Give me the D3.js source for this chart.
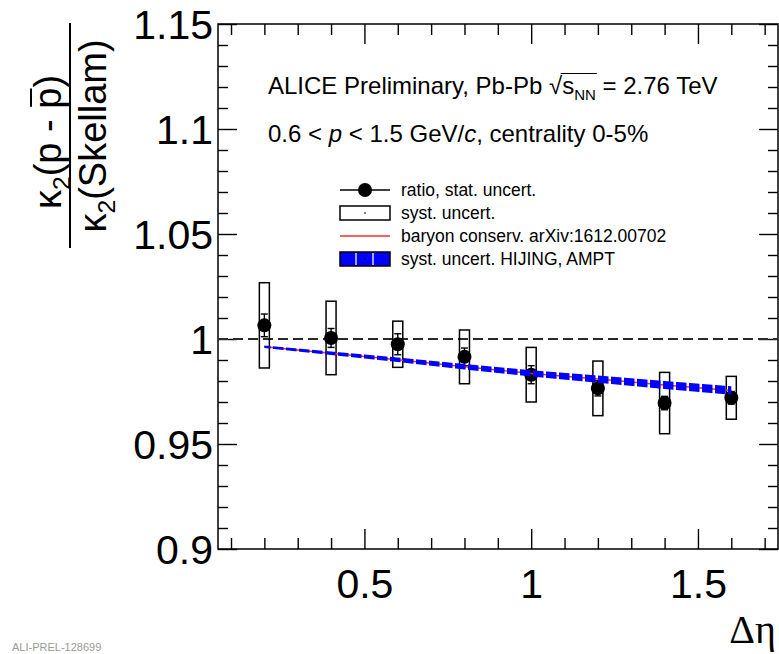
<!DOCTYPE html>
<html>
<head>
<meta charset="utf-8">
<script src="https://cdn.jsdelivr.net/npm/d3@7"></script>
<style>
  html, body { margin: 0; padding: 0; background: #fff; }
  svg { display: block; font-family: "Liberation Sans", Arial, Helvetica, sans-serif; }
</style>
</head>
<body>
<svg id="chart" width="779" height="654"></svg>
<script>
// ---------------- data ----------------
const deltaEta   = [0.2, 0.4, 0.6, 0.8, 1.0, 1.2, 1.4, 1.6];
const ratioVals  = [1.0065, 1.0005, 0.9975, 0.9915, 0.983, 0.9765, 0.9695, 0.972];
const statErr    = [0.0054, 0.0045, 0.005, 0.0042, 0.0043, 0.0036, 0.0032, 0.003];
const systErr    = [0.0203, 0.0175, 0.011, 0.0128, 0.013, 0.013, 0.0146, 0.0102];
const modelVals  = [0.9963, 0.9932, 0.9901, 0.9868, 0.9836, 0.9809, 0.9781, 0.9755];
const modelUnc   = [0.0006, 0.0008, 0.0011, 0.0013, 0.0015, 0.0017, 0.0019, 0.002];
const xMajorTicks = [0.5, 1, 1.5];
const xTickLabels = ["0.5", "1", "1.5"];
const yMajorTicks = [0.9, 0.95, 1, 1.05, 1.1, 1.15];
const yTickLabels = ["0.9", "0.95", "1", "1.05", "1.1", "1.15"];
const legendLabels = ["ratio, stat. uncert.", "syst. uncert.", "baryon conserv. arXiv:1612.00702", "syst. uncert. HIJING, AMPT"];

// ---------------- layout ----------------
const L = 218, R = 778, T = 24, B = 549;
const svg = d3.select("#chart");
const x = d3.scaleLinear().domain([0.061, 1.74]).range([L, R]);
const y = d3.scaleLinear().domain([0.9, 1.15]).range([B, T]);
const boxHalf = 0.015;

// pattern for model band
const defs = svg.append("defs");
const pat = defs.append("pattern").attr("id", "bandPat")
  .attr("patternUnits", "userSpaceOnUse").attr("width", 13).attr("height", 40);
pat.append("rect").attr("x", 0).attr("y", 0).attr("width", 10.5).attr("height", 40).attr("fill", "#0000ff");

// ---------------- axes (ticks inside) ----------------
const minorX = d3.range(1, 18).map(d => d / 10).filter(v => !xMajorTicks.some(m => Math.abs(m - v) < 1e-6));
const minorY = d3.range(90, 116).map(d => d / 100).filter(v => !yMajorTicks.some(m => Math.abs(m - v) < 1e-6));

function styleAxis(g) {
  g.select(".domain").remove();
  g.selectAll(".tick line").attr("stroke", "#000").attr("stroke-width", 1.4);
}
// bottom
svg.append("g").attr("transform", `translate(0,${B})`)
  .call(d3.axisBottom(x).tickValues(xMajorTicks).tickSize(-20).tickSizeOuter(0).tickPadding(20)
    .tickFormat((d, i) => xTickLabels[i]))
  .call(styleAxis)
  .call(g => g.selectAll("text").attr("font-size", 41).attr("fill", "#000"));
svg.append("g").attr("transform", `translate(0,${B})`)
  .call(d3.axisBottom(x).tickValues(minorX).tickSize(-11).tickSizeOuter(0).tickFormat(""))
  .call(styleAxis);
// top
svg.append("g").attr("transform", `translate(0,${T})`)
  .call(d3.axisTop(x).tickValues(xMajorTicks).tickSize(-20).tickSizeOuter(0).tickFormat(""))
  .call(styleAxis);
svg.append("g").attr("transform", `translate(0,${T})`)
  .call(d3.axisTop(x).tickValues(minorX).tickSize(-11).tickSizeOuter(0).tickFormat(""))
  .call(styleAxis);
// left
svg.append("g").attr("transform", `translate(${L},0)`)
  .call(d3.axisLeft(y).tickValues(yMajorTicks).tickSize(-19).tickSizeOuter(0).tickPadding(5)
    .tickFormat((d, i) => yTickLabels[i]))
  .call(styleAxis)
  .call(g => g.selectAll("text").attr("font-size", 41).attr("fill", "#000").attr("dy", "0.36em"));
svg.append("g").attr("transform", `translate(${L},0)`)
  .call(d3.axisLeft(y).tickValues(minorY).tickSize(-10).tickSizeOuter(0).tickFormat(""))
  .call(styleAxis);
// right
svg.append("g").attr("transform", `translate(${R},0)`)
  .call(d3.axisRight(y).tickValues(yMajorTicks).tickSize(-19).tickSizeOuter(0).tickFormat(""))
  .call(styleAxis);
svg.append("g").attr("transform", `translate(${R},0)`)
  .call(d3.axisRight(y).tickValues(minorY).tickSize(-10).tickSizeOuter(0).tickFormat(""))
  .call(styleAxis);

// frame
svg.append("rect").attr("x", L).attr("y", T).attr("width", R - L).attr("height", B - T)
  .attr("fill", "none").attr("stroke", "#000").attr("stroke-width", 1.5);

// ---------------- reference line at 1 ----------------
svg.append("line").attr("x1", L).attr("x2", R).attr("y1", y(1)).attr("y2", y(1))
  .attr("stroke", "#2a2a2a").attr("stroke-width", 2).attr("stroke-dasharray", "10,5");

// ---------------- data marks ----------------
const pts = deltaEta.map((d, i) => ({ x: d, v: ratioVals[i], s: statErr[i], sy: systErr[i], m: modelVals[i], mu: modelUnc[i] }));

// syst boxes
svg.append("g").selectAll("rect").data(pts).join("rect")
  .attr("x", d => x(d.x - boxHalf)).attr("width", d => x(d.x + boxHalf) - x(d.x - boxHalf))
  .attr("y", d => y(d.v + d.sy)).attr("height", d => y(d.v - d.sy) - y(d.v + d.sy))
  .attr("fill", "none").attr("stroke", "#000").attr("stroke-width", 1.5);

// stat error bars
const eb = svg.append("g").attr("stroke", "#000").attr("stroke-width", 1.4);
eb.selectAll("line.v").data(pts).join("line").attr("class", "v")
  .attr("x1", d => x(d.x)).attr("x2", d => x(d.x)).attr("y1", d => y(d.v + d.s)).attr("y2", d => y(d.v - d.s));
eb.selectAll("line.t").data(pts).join("line").attr("class", "t")
  .attr("x1", d => x(d.x) - 3.5).attr("x2", d => x(d.x) + 3.5).attr("y1", d => y(d.v + d.s)).attr("y2", d => y(d.v + d.s));
eb.selectAll("line.b").data(pts).join("line").attr("class", "b")
  .attr("x1", d => x(d.x) - 3.5).attr("x2", d => x(d.x) + 3.5).attr("y1", d => y(d.v - d.s)).attr("y2", d => y(d.v - d.s));

// markers
svg.append("g").selectAll("circle").data(pts).join("circle")
  .attr("cx", d => x(d.x)).attr("cy", d => y(d.v)).attr("r", 7).attr("fill", "#000");

// model red line
svg.append("path").datum(pts)
  .attr("d", d3.line().x(d => x(d.x)).y(d => y(d.m)))
  .attr("fill", "none").attr("stroke", "#ff2a2a").attr("stroke-width", 1.5);
// model band
svg.append("path").datum(pts)
  .attr("d", d3.area().x(d => x(d.x)).y0(d => y(d.m - d.mu)).y1(d => y(d.m + d.mu)))
  .attr("fill", "url(#bandPat)");

// ---------------- texts ----------------
const FS = 24;
const t1 = svg.append("text").attr("x", 268).attr("y", 94).attr("font-size", FS).attr("fill", "#000");
t1.append("tspan").text("ALICE Preliminary, Pb-Pb ");
t1.append("tspan").attr("class", "rad").text("\u221A");
t1.append("tspan").attr("class", "s").text("s");
t1.append("tspan").attr("font-size", 15).attr("dy", 6).text("NN");
t1.append("tspan").attr("dy", -6).text(" = 2.76 TeV");
// radical overline
{
  const node = t1.node();
  const full = node.textContent;
  const iR = full.indexOf("\u221A");
  const eR = node.getExtentOfChar(iR);
  const iN = full.indexOf("NN") + 1;
  const eN = node.getExtentOfChar(iN);
  svg.append("line").attr("x1", eR.x + eR.width - 1.5).attr("x2", eN.x + eN.width + 1)
    .attr("y1", eR.y + 1.5).attr("y2", eR.y + 1.5).attr("stroke", "#000").attr("stroke-width", 1.2);
}

const t2 = svg.append("text").attr("x", 268).attr("y", 142).attr("font-size", FS).attr("fill", "#000");
t2.append("tspan").text("0.6 < ");
t2.append("tspan").attr("font-style", "italic").text("p");
t2.append("tspan").text(" < 1.5 GeV/");
t2.append("tspan").attr("font-style", "italic").text("c");
t2.append("tspan").text(", centrality 0-5%");

// ---------------- legend ----------------
const legRows = [190, 213, 236, 259];
const LX0 = 340, LX1 = 390, LTX = 401, LFS = 17.5;
const lg = svg.append("g");
// row 0: marker with line
lg.append("line").attr("x1", LX0).attr("x2", LX1).attr("y1", legRows[0]).attr("y2", legRows[0]).attr("stroke", "#000").attr("stroke-width", 1.5);
lg.append("circle").attr("cx", (LX0 + LX1) / 2).attr("cy", legRows[0]).attr("r", 7).attr("fill", "#000");
// row 1: empty box with dot
lg.append("rect").attr("x", LX0).attr("y", legRows[1] - 7).attr("width", LX1 - LX0).attr("height", 14)
  .attr("fill", "none").attr("stroke", "#000").attr("stroke-width", 1.5);
lg.append("rect").attr("x", (LX0 + LX1) / 2 - 0.7).attr("y", legRows[1] - 0.7).attr("width", 1.4).attr("height", 1.4).attr("fill", "#000");
// row 2: red line
lg.append("line").attr("x1", LX0).attr("x2", LX1).attr("y1", legRows[2]).attr("y2", legRows[2]).attr("stroke", "#ff2a2a").attr("stroke-width", 1.5);
// row 3: blue box with white stripes
lg.append("rect").attr("x", LX0).attr("y", legRows[3] - 7).attr("width", LX1 - LX0).attr("height", 14)
  .attr("fill", "#0000ff").attr("stroke", "#000").attr("stroke-width", 1.5);
[LX0 + 16, LX0 + 33].forEach(xx => lg.append("line").attr("x1", xx).attr("x2", xx)
  .attr("y1", legRows[3] - 6).attr("y2", legRows[3] + 6).attr("stroke", "#fff").attr("stroke-width", 1.3));
lg.append("rect").attr("x", (LX0 + LX1) / 2 - 0.7).attr("y", legRows[3] - 0.7).attr("width", 1.4).attr("height", 1.4).attr("fill", "#000");
lg.selectAll("text.leg").data(legendLabels).join("text").attr("class", "leg")
  .attr("x", LTX).attr("y", (d, i) => legRows[i]).attr("dy", "0.35em")
  .attr("font-size", LFS).attr("fill", "#000").text(d => d);

// ---------------- axis titles ----------------
// x title
svg.append("text").attr("x", 776).attr("y", 643).attr("text-anchor", "end")
  .attr("font-family", "'Liberation Serif', 'Times New Roman', serif").attr("font-size", 40).attr("fill", "#000")
  .text("\u0394\u03B7");

// y title as fraction
const YFS = 38;
const num = svg.append("text").attr("transform", "translate(61,142) rotate(-90)")
  .attr("text-anchor", "middle").attr("font-size", YFS).attr("fill", "#000");
num.append("tspan").text("\u03BA");
num.append("tspan").attr("font-size", YFS * 0.65).attr("dy", 9).text("2");
num.append("tspan").attr("dy", -9).text("(p - p)");
{
  const node = num.node();
  const full = node.textContent;
  const ip = full.lastIndexOf("p");
  const e = node.getExtentOfChar(ip);
  svg.append("line").attr("transform", "translate(61,142) rotate(-90)")
    .attr("x1", e.x + 2).attr("x2", e.x + e.width - 1)
    .attr("y1", e.y + 4).attr("y2", e.y + 4)
    .attr("stroke", "#000").attr("stroke-width", 2);
}
svg.append("line").attr("x1", 70).attr("x2", 70).attr("y1", 23).attr("y2", 248)
  .attr("stroke", "#000").attr("stroke-width", 2);
const den = svg.append("text").attr("transform", "translate(106,136) rotate(-90)")
  .attr("text-anchor", "middle").attr("font-size", YFS).attr("fill", "#000");
den.append("tspan").text("\u03BA");
den.append("tspan").attr("font-size", YFS * 0.65).attr("dy", 9).text("2");
den.append("tspan").attr("dy", -9).text("(Skellam)");

// watermark (bottom-left corner)
svg.append("text").attr("x", 12).attr("y", 651).attr("font-size", 11).attr("fill", "#999")
  .text("ALI-PREL-128699");
</script>
</body>
</html>
